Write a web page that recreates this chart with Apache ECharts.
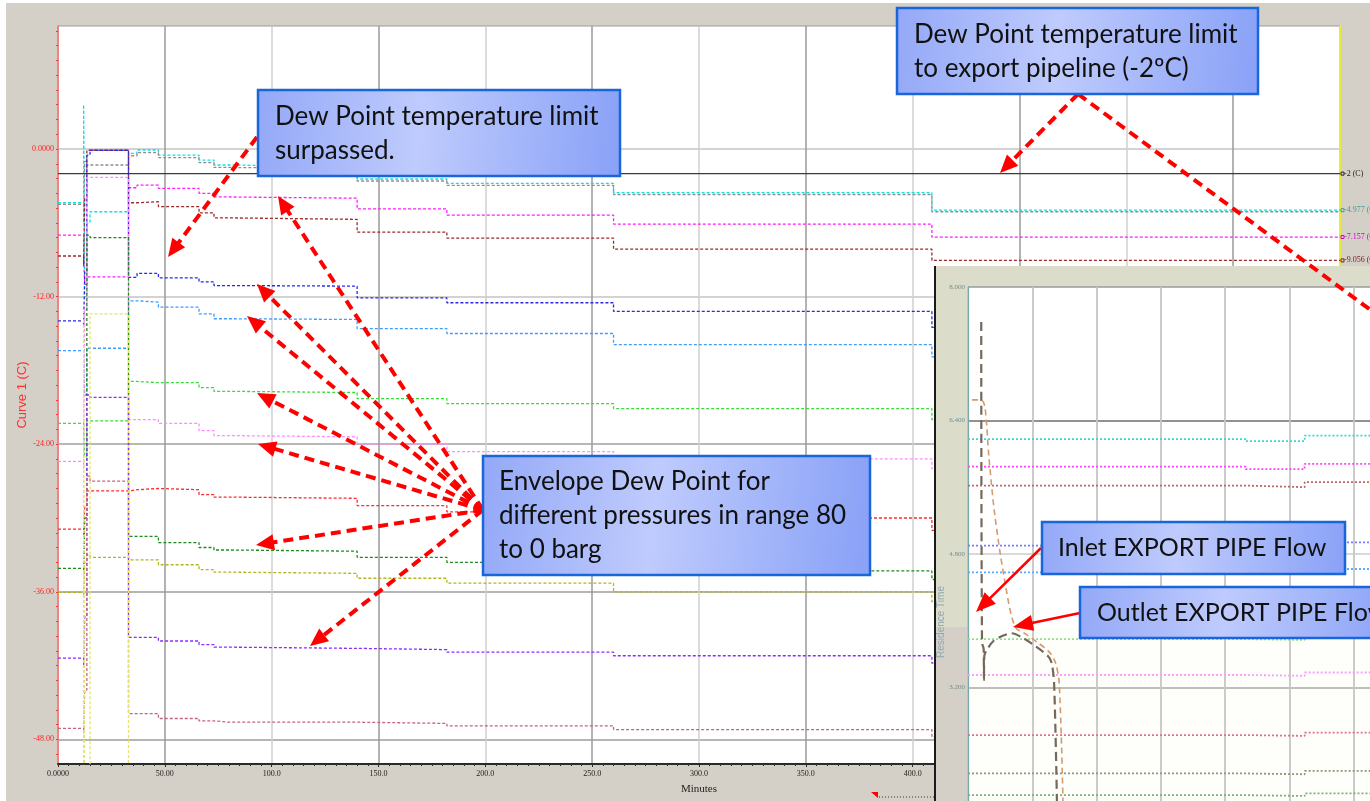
<!DOCTYPE html>
<html>
<head>
<meta charset="utf-8">
<script src="https://cdn.jsdelivr.net/npm/echarts@6/dist/echarts.min.js"></script>
<style>
  html, body { margin: 0; padding: 0; background: #ffffff; }
  #panel { position: absolute; left: 6px; top: 3px; width: 1364px; height: 798px; background: #d4d0c8; }
  #chart { position: absolute; left: 0; top: 0; width: 1370px; height: 801px; }
</style>
</head>
<body>
<div id="panel"></div>
<div id="chart"></div>
<script>
// ---- Main trend: dew point of each pressure level (deg C) over time (minutes) ----
const minutes = [0, 12, 12.5, 13.5, 15, 33, 37, 47, 66, 73, 80, 140, 182, 260, 409, 600];

const dewCyan       = [-4.37, 3.6, -12, -6, -5.1, -0.35, -0.08, -0.49, -0.9, -1.3, -1.44, -2.44, -2.8, -3.55, -4.977, -4.977];
const dewGray       = [-4.5, -6, -1, -1.3, -1.3, -0.55, -0.3, -0.7, -1.1, -1.5, -1.6, -2.6, -2.95, -3.7, -5.1, -5.1];
const dewMagenta    = [-7.0, -9, -11, -10.4, -10.4, -3.15, -2.93, -3.2, -3.6, -3.9, -4.0, -4.87, -5.37, -6.1, -7.157, -7.157];
const dewBrown      = [-8.7, -9.5, -4, -0.1, -0.1, -4.37, -4.29, -4.69, -5.2, -5.6, -5.72, -6.75, -7.24, -8.14, -9.056, -9.056];
const dewBlue       = [-13.97, -14.5, -10, -0.5, -0.1, -10.44, -10.11, -10.47, -10.8, -11.1, -11.15, -12.1, -12.5, -13.2, -14.5, -14.5];
const dewSky        = [-16.4, -17, -20, -16.2, -16.2, -12.34, -12.45, -12.86, -13.4, -13.8, -13.86, -14.6, -15.0, -15.9, -16.9, -16.9];
const dewLime       = [-22.3, -22.8, -25, -22.1, -22.1, -18.9, -19.0, -19.0, -19.4, -19.7, -19.8, -20.3, -20.7, -21.1, -22.0, -22.0];
const dewPink       = [-25.4, -26, -13, -2.3, -2.3, -22.0, -22.0, -22.3, -22.9, -23.3, -23.4, -24.0, -24.6, -25.2, -26.0, -26.0];
const dewRed        = [-30.9, -31.5, -29, -27.8, -27.8, -27.7, -27.6, -27.7, -28.1, -28.3, -28.4, -29.0, -29.5, -30.0, -31.0, -31.0];
const dewGreen      = [-34.1, -34.5, -30, -7.0, -7.2, -31.5, -31.5, -32.0, -32.4, -32.6, -32.7, -33.2, -33.6, -34.3, -35.0, -35.0];
const dewOlive      = [-36.05, -36.5, -33.5, -33.0, -33.2, -33.4, -33.4, -33.8, -34.2, -34.4, -34.5, -34.9, -35.3, -36.0, -36.8, -36.8];
const dewViolet     = [-41.4, -42, -38, -20.0, -20.2, -39.7, -39.7, -40.0, -40.3, -40.5, -40.6, -40.7, -40.9, -41.2, -41.8, -41.8];
const dewRose       = [-47.1, -47.5, -44, -26.6, -27.0, -45.9, -45.9, -46.3, -46.5, -46.6, -46.6, -46.7, -46.9, -47.2, -47.8, -47.8];
const dewYellow     = [-60, -13.2, -60, -60, -13.4, -60, -60, -60, -60, -60, -60, -60, -60, -60, -60, -60];

// export pipeline dew point limit
const limitMinutes = [0, 600];
const limitValues  = [-2, -2];

// axis ticks of the main trend
const xTickLabels  = ['0.0000', '50.00', '100.0', '150.0', '200.0', '250.0', '300.0', '350.0', '400.0', '450.0', '500.0', '550.0', '600.0'];
const yTickValues  = [-48, -36, -24, -12, 0];
const yTickLabels  = ['-48.00', '-36.00', '-24.00', '-12.00', '0.0000'];

// ---- Inset trend: residence time and dew point levels ----
const insetTime        = [0, 216, 262, 400];
const insetCyan        = [6.176, 6.152, 6.219, 6.219];
const insetMagenta     = [5.848, 5.817, 5.880, 5.880];
const insetBrown       = [5.620, 5.601, 5.661, 5.661];
const insetBlue        = [4.90, 4.88, 4.94, 4.94];
const insetSky         = [4.58, 4.56, 4.62, 4.62];
const insetLime        = [3.78, 3.77, 3.81, 3.81];
const insetPink        = [3.35, 3.34, 3.38, 3.38];
const insetRose        = [2.63, 2.62, 2.66, 2.66];
const insetGrayGreen   = [2.17, 2.16, 2.20, 2.20];
const insetGreen       = [1.91, 1.90, 1.93, 1.93];

const inletFlowTime  = [10.3, 10.9, 12.2, 12.4, 12.7, 15, 20, 27, 34, 42, 52, 62, 65, 67, 69.2];
const inletFlow      = [7.58, 3.74, 3.66, 3.29, 3.58, 3.66, 3.76, 3.82, 3.85, 3.80, 3.70, 3.58, 3.50, 3.25, 1.84];
const outletFlowTime = [3.1, 10.1, 13.2, 16.3, 21, 28.8, 36.5, 45, 55, 63, 68, 71, 73.9];
const outletFlow     = [6.647, 6.647, 6.56, 5.96, 5.25, 4.46, 3.93, 3.84, 3.73, 3.63, 3.50, 3.25, 1.84];

const insetTickValues = [3.2, 4.8, 6.4, 8.0];

// -------------------------------------------------------------------------
const pairs = (xs, ys) => xs.map((x, i) => [x, ys[i]]);

const mainLines = [
  { name: 'Dew 1',  values: dewCyan,    color: '#14e0e0', end: '-4.977 (C)', endColor: '#3b9c9c' },
  { name: 'Dew 1b', values: dewGray,    color: '#8f8f8f' },
  { name: 'Dew 2',  values: dewMagenta, color: '#ff1cff', end: '-7.157 (C)', endColor: '#d000d0' },
  { name: 'Dew 3',  values: dewBrown,   color: '#9c2a2a', end: '-9.056 (C)', endColor: '#7a2020' },
  { name: 'Dew 4',  values: dewBlue,    color: '#2a2ae6' },
  { name: 'Dew 5',  values: dewSky,     color: '#3d9cff' },
  { name: 'Dew 6',  values: dewLime,    color: '#38dc38' },
  { name: 'Dew 7',  values: dewPink,    color: '#ff8cff' },
  { name: 'Dew 8',  values: dewRed,     color: '#ff2a2a' },
  { name: 'Dew 9',  values: dewGreen,   color: '#1f8a1f' },
  { name: 'Dew 10', values: dewOlive,   color: '#b4b41e' },
  { name: 'Dew 11', values: dewViolet,  color: '#8a2cff' },
  { name: 'Dew 12', values: dewRose,    color: '#c46482' },
  { name: 'Dew 13', values: dewYellow,  color: '#e4e46a' }
];

const insetLines = [
  { values: insetCyan,      color: '#3ad6d6' },
  { values: insetMagenta,   color: '#ff44ff' },
  { values: insetBrown,     color: '#b86a6a' },
  { values: insetBlue,      color: '#7a7aff' },
  { values: insetSky,       color: '#5aaaff' },
  { values: insetLime,      color: '#8ee08e' },
  { values: insetPink,      color: '#ff9cff' },
  { values: insetRose,      color: '#e07090' },
  { values: insetGrayGreen, color: '#8a9a7a' },
  { values: insetGreen,     color: '#7ab07a' }
];

const series = [];

mainLines.forEach(d => {
  const s = {
    type: 'line', name: d.name, xAxisIndex: 0, yAxisIndex: 0,
    data: pairs(minutes, d.values), step: 'end', symbol: 'none', z: 3,
    lineStyle: { color: d.color, width: 1.3, type: [3, 2] }
  };
  if (d.end) {
    s.endLabel = {
      show: true, distance: 1, formatter: '{m|}' + d.end, color: d.endColor,
      fontFamily: 'Liberation Sans Narrow', fontSize: 8,
      rich: { m: { width: 3, height: 3, borderColor: d.endColor, borderWidth: 1, padding: 0 } }
    };
  }
  series.push(s);
});

series.push({
  type: 'line', name: 'Limit', xAxisIndex: 0, yAxisIndex: 0,
  data: pairs(limitMinutes, limitValues), symbol: 'none', z: 3,
  lineStyle: { color: '#3c3c3c', width: 1.4 },
  endLabel: {
    show: true, distance: 1, formatter: '{m|}-2 (C)', color: '#222',
    fontFamily: 'Liberation Sans Narrow', fontSize: 8,
    rich: { m: { width: 3, height: 3, borderColor: '#222', borderWidth: 1 } }
  }
});

insetLines.forEach(d => {
  series.push({
    type: 'line', xAxisIndex: 1, yAxisIndex: 3, data: pairs(insetTime, d.values),
    step: 'end', symbol: 'none', z: 13,
    lineStyle: { color: d.color, width: 1.8, type: [2, 2] }
  });
});

series.push({
  type: 'line', name: 'Inlet EXPORT PIPE Flow', xAxisIndex: 1, yAxisIndex: 3,
  data: pairs(inletFlowTime, inletFlow), symbol: 'none', smooth: 0.3, z: 14,
  lineStyle: { color: '#76685b', width: 2.2, type: [9, 5] }
});
series.push({
  type: 'line', name: 'Outlet EXPORT PIPE Flow', xAxisIndex: 1, yAxisIndex: 3,
  data: pairs(outletFlowTime, outletFlow), symbol: 'none', smooth: 0.3, z: 14,
  lineStyle: { color: '#d49a6e', width: 1.6, type: [6, 4] }
});

// minor ticks of the red value axis
const yMinorTicks = [];
for (let k = -41; k <= 8; k++) yMinorTicks.push(+(k * 1.2).toFixed(1));

// ---- annotation helpers ----
function arrow(x1, y1, x2, y2, o) {
  const dx = x2 - x1, dy = y2 - y1, len = Math.hypot(dx, dy);
  const ux = dx / len, uy = dy / len;
  const out = [];
  const L = o.head || 0, W = o.headW || 0;
  const bx = x2 - ux * L, by = y2 - uy * L;
  out.push({
    type: 'line', z: 60,
    shape: { x1: x1, y1: y1, x2: L ? bx + ux * 2 : x2, y2: L ? by + uy * 2 : y2 },
    style: { stroke: '#ff0000', lineWidth: o.w, lineDash: o.dash || null, lineCap: 'butt' }
  });
  if (L) {
    out.push({
      type: 'polygon', z: 61,
      shape: { points: [[x2, y2], [bx - uy * W, by + ux * W], [bx + uy * W, by - ux * W]] },
      style: { fill: '#ff0000' }
    });
  }
  return out;
}

function callout(x, y, w, h, lines, tx, ty, lh, fs) {
  const els = [{
    type: 'rect', z: 70, shape: { x: x, y: y, width: w, height: h },
    style: {
      fill: { type: 'linear', x: 0, y: 0, x2: 1, y2: 0.3, colorStops: [
        { offset: 0, color: '#93a8f7' }, { offset: 0.45, color: '#bfcbfd' }, { offset: 1, color: '#8aa2f7' }] },
      stroke: '#1866da', lineWidth: 2.5
    }
  }];
  lines.forEach((s, i) => els.push({
    type: 'text', z: 71, x: tx, y: ty + i * lh,
    style: { text: s, fontFamily: 'Lato', fontSize: fs, fill: '#111', verticalAlign: 'middle' }
  }));
  return els;
}

const fanFrom = [483, 510];
const fanTips = [[278, 196], [257, 284], [247, 316], [257, 393], [258, 444], [256, 545], [310, 646]];

let graphics = [];
// inset frame
graphics.push({ type: 'rect', z: 10, shape: { x: 934, y: 266, width: 436, height: 535 }, style: { fill: '#dcdccb' } });
graphics.push({ type: 'rect', z: 10, shape: { x: 934, y: 627, width: 34, height: 174 }, style: { fill: '#d4d0c8' } });
graphics.push({ type: 'rect', z: 10, shape: { x: 968, y: 287, width: 402, height: 514 }, style: { fill: '#ffffff' } });
graphics.push({ type: 'rect', z: 10.5, shape: { x: 968, y: 627, width: 402, height: 174 }, style: { fill: '#fbfbf0', opacity: 0.35 } });
graphics.push({ type: 'line', z: 11, shape: { x1: 935, y1: 266, x2: 935, y2: 801 }, style: { stroke: '#1a1a1a', lineWidth: 2 } });
graphics.push({
  type: 'text', z: 12, x: 941, y: 622, rotation: Math.PI / 2,
  style: { text: 'Residence Time', fontFamily: 'Liberation Sans', fontSize: 10, fill: '#8fa7ad', align: 'center', verticalAlign: 'middle' }
});
// cursor marker on the time axis
graphics.push({ type: 'polygon', z: 9, shape: { points: [[871, 792], [878, 792], [878, 798]] }, style: { fill: '#ff0000' } });
graphics.push({ type: 'line', z: 9, shape: { x1: 879, y1: 797, x2: 934, y2: 797 }, style: { stroke: '#333', lineWidth: 1, lineDash: [1, 2] } });

// callouts
graphics = graphics.concat(callout(258, 90, 362, 86, ['Dew Point temperature limit', 'surpassed.'], 275, 117, 34, 26));
graphics = graphics.concat(callout(897, 8, 361, 86, ['Dew Point temperature limit', 'to export pipeline (-2ºC)'], 914, 35, 34, 26));
graphics = graphics.concat(callout(483, 456, 387, 119, ['Envelope Dew Point for', 'different pressures in range 80', 'to 0 barg'], 499, 482, 34, 26));
graphics = graphics.concat(callout(1042, 522, 303, 52, ['Inlet EXPORT PIPE Flow'], 1058, 548, 34, 25));
graphics = graphics.concat(callout(1080, 587, 320, 51, ['Outlet EXPORT PIPE Flow'], 1097, 613, 34, 25));

// arrows
graphics = graphics.concat(arrow(257, 137, 168, 257, { w: 4, dash: [10, 6], head: 18, headW: 8 }));
graphics = graphics.concat(arrow(1078, 94, 1000, 173, { w: 4, dash: [10, 6], head: 18, headW: 8 }));
graphics = graphics.concat(arrow(1078, 94, 1376, 314, { w: 4, dash: [10, 6] }));
fanTips.forEach(t => { graphics = graphics.concat(arrow(fanFrom[0], fanFrom[1], t[0], t[1], { w: 4, dash: [10, 6], head: 18, headW: 8 })); });
graphics = graphics.concat(arrow(1041, 548, 976, 612, { w: 2.5, head: 20, headW: 8 }));
graphics = graphics.concat(arrow(1080, 613, 1013, 627, { w: 2.5, head: 20, headW: 8 }));

const narrow = 'Liberation Sans Narrow';

const option = {
  animation: false,
  grid: [
    { left: 58, top: 26, right: 30, bottom: 37, show: true, backgroundColor: '#ffffff', borderColor: '#9a9a9a', borderWidth: 1, outerBoundsMode: 'none' },
    { left: 968, top: 287, width: 514, height: 534, show: false, outerBoundsMode: 'none', containLabel: false }
  ],
  xAxis: [
    {
      type: 'value', gridIndex: 0, min: 0, max: 600, interval: 50,
      name: 'Minutes', nameLocation: 'middle', nameGap: 20,
      nameTextStyle: { fontFamily: narrow, fontSize: 11, color: '#222' },
      axisLine: { onZero: false, lineStyle: { color: '#2a2a2a', width: 2 } },
      axisTick: { show: true, length: 3, lineStyle: { color: '#2a2a2a' } },
      minorTick: { show: true, splitNumber: 10, length: 2, lineStyle: { color: '#2a2a2a' } },
      axisLabel: { fontFamily: narrow, fontSize: 8, color: '#222', margin: 6,
        formatter: v => xTickLabels[Math.round(v / 50)] },
      splitLine: { show: true, lineStyle: { color: ['#cfcfcf', '#9a9a9a'], width: 1.5 } }
    },
    {
      type: 'value', gridIndex: 1, min: 0, max: 400, interval: 50, z: 12,
      axisLine: { show: false, onZero: false }, axisTick: { show: false }, axisLabel: { show: false },
      splitLine: { show: true, lineStyle: { color: '#c6c6c6', width: 1.8 } }
    }
  ],
  yAxis: [
    {
      type: 'value', gridIndex: 0, min: -50, max: 10, position: 'left',
      name: 'Curve 1 (C)', nameLocation: 'middle', nameGap: 29, nameRotate: 90, nameMoveOverlap: false,
      nameTextStyle: { fontFamily: 'Liberation Sans', fontSize: 13, color: '#ff3030' },
      axisLine: { show: true, onZero: false, lineStyle: { color: '#ff6a6a', width: 1.5 } },
      axisTick: { show: false, customValues: yTickValues },
      axisLabel: { customValues: yTickValues, fontFamily: narrow, fontSize: 8, color: '#ff2020', margin: 4,
        formatter: v => yTickLabels[yTickValues.indexOf(Math.round(v))] },
      splitLine: { show: true, lineStyle: { color: ['#9c9c9c', '#9c9c9c', '#a0a0a0', '#c4c4c4', '#c4c4c4'], width: 1.5 } }
    },
    {
      type: 'value', gridIndex: 0, min: -50, max: 10, position: 'right',
      axisLine: { show: true, onZero: false, lineStyle: { color: '#f4f400', width: 1.5 } },
      axisTick: { show: false }, axisLabel: { show: false }, splitLine: { show: false }
    },
    {
      type: 'value', gridIndex: 0, min: -50, max: 10, position: 'left',
      axisLine: { show: false, onZero: false }, axisLabel: { show: false }, splitLine: { show: false },
      axisTick: { show: true, inside: false, length: 2, customValues: yMinorTicks, lineStyle: { color: '#ff3030', width: 1 } }
    },
    {
      type: 'value', gridIndex: 1, min: 1.6, max: 8, interval: 1.6, z: 12,
      axisLine: { show: true, onZero: false, lineStyle: { color: '#79a9a9', width: 1.2 } },
      axisTick: { show: false },
      axisLabel: { fontFamily: narrow, fontSize: 7, color: '#6e9090', margin: 3,
        formatter: v => (insetTickValues.indexOf(Math.round(v * 10) / 10) >= 0 ? v.toFixed(3) : '') },
      splitLine: { show: true, lineStyle: { color: ['#9a9a9a', '#a9a9a9', '#cdcdcd', '#6c6c6c', '#9a9a9a'], width: 1.6 } }
    }
  ],
  graphic: graphics,
  series: series
};

const chart = echarts.init(document.getElementById('chart'), null, { renderer: 'canvas' });
chart.setOption(option);
</script>
</body>
</html>
